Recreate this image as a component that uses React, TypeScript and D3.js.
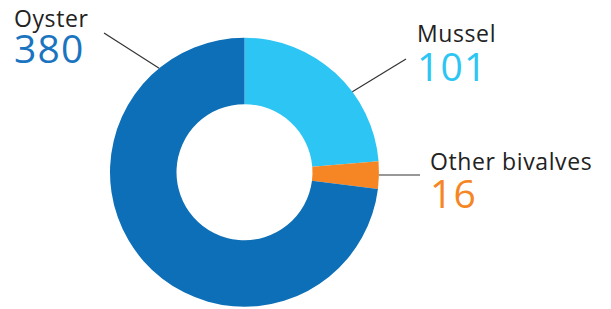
import * as d3 from "d3";
import { useEffect, useRef } from "react";

// slice order runs clockwise from 12 o'clock
const categories = ["Mussel", "Other bivalves", "Oyster"];
// printed values
const labelValues = [101, 16, 380];
// slice shares (%) as drawn in the reference (they differ from the printed values)
const shares = [23.7, 3.3, 73.0];
const colors = ["#2dc5f4", "#f58623", "#0c6fb8"];
const numberColors = ["#2dc5f4", "#f58623", "#1a74c0"];
// where each leader line touches the ring, degrees clockwise from top
const leaderAngles = [53.3, 91.2, 320.6];

const W = 611;
const H = 309;
const cx = 244.5;
const cy = 172.2;
const outerR = 134.5;
const innerR = 68;

// label anchors: text x, name baseline, number baseline, leader start
const labelPos = [
    { x: 417, nameY: 42, numY: 81, lx: 406, ly: 59 },
    { x: 430, nameY: 170, numY: 208, lx: 420, ly: 175 },
    { x: 14, nameY: 27, numY: 63, lx: 104, ly: 33 },
];

export default function App() {
    const ref = useRef<SVGSVGElement | null>(null);

    useEffect(() => {
        if (!ref.current) return;
        const svg = d3.select(ref.current);
        svg.selectAll("*").remove();

        const pie = d3.pie<number>().sort(null).value(d => d);
        const arcs = pie(shares);
        const arc = d3.arc<d3.PieArcDatum<number>>()
            .innerRadius(innerR)
            .outerRadius(outerR);

        const g = svg.append("g").attr("transform", `translate(${cx},${cy})`);

        g.selectAll("path.slice")
            .data(arcs)
            .join("path")
            .attr("class", "slice")
            .attr("d", arc)
            .attr("fill", (_, i) => colors[i]);

        // leader lines, from the label to the outer edge of the ring
        svg.append("g")
            .selectAll("line")
            .data(categories)
            .join("line")
            .attr("x1", (_, i) => labelPos[i].lx)
            .attr("y1", (_, i) => labelPos[i].ly)
            .attr("x2", (_, i) => cx + outerR * Math.sin((leaderAngles[i] * Math.PI) / 180))
            .attr("y2", (_, i) => cy - outerR * Math.cos((leaderAngles[i] * Math.PI) / 180))
            .attr("stroke", "#333")
            .attr("stroke-width", 1.2);

        const labels = svg.append("g")
            .attr("font-family", "'Open Sans', Lato, sans-serif");

        labels.selectAll("text.name")
            .data(categories)
            .join("text")
            .attr("class", "name")
            .attr("x", (_, i) => labelPos[i].x)
            .attr("y", (_, i) => labelPos[i].nameY)
            .attr("font-size", 23)
            .attr("letter-spacing", 0.6)
            .attr("fill", "#222")
            .text(d => d);

        labels.selectAll("text.num")
            .data(labelValues)
            .join("text")
            .attr("class", "num")
            .attr("x", (_, i) => labelPos[i].x)
            .attr("y", (_, i) => labelPos[i].numY)
            .attr("font-size", 39)
            .attr("letter-spacing", 1.2)
            .attr("fill", (_, i) => numberColors[i])
            .text(d => d);
    }, []);

    return (
        <svg
            ref={ref}
            width={W}
            height={H}
            style={{ position: "absolute", left: 0, top: 0, display: "block" }}
        />
    );
}
